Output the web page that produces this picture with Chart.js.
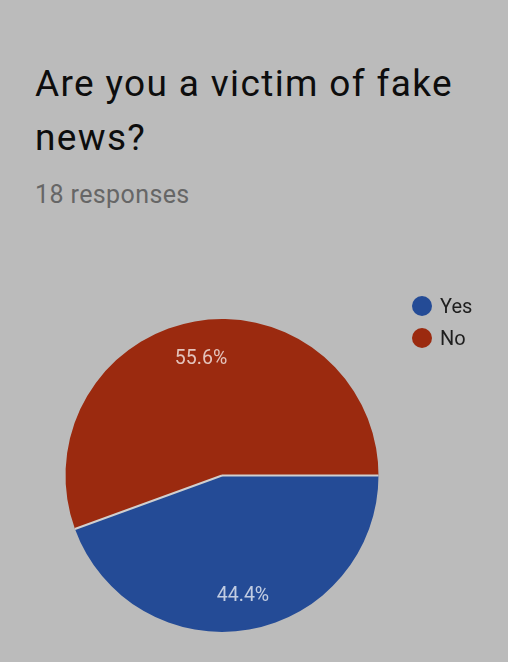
<!DOCTYPE html>
<html>
<head>
<meta charset="utf-8">
<script src="https://cdn.jsdelivr.net/npm/chart.js@4.4.1/dist/chart.umd.min.js"></script>
<style>
  html, body { margin: 0; padding: 0; background: #bbbbbb; width: 508px; height: 662px; overflow: hidden; font-family: Roboto, "Noto Sans", sans-serif; }
  #wrap { position: relative; width: 508px; height: 662px; }
  #title { position: absolute; left: 35px; top: 57px; font-size: 37px; line-height: 54px; letter-spacing: 1.35px; color: #0d0d0d; margin: 0; font-weight: 400; white-space: nowrap; }
  #sub { position: absolute; left: 35px; top: 180px; font-size: 25px; line-height: 30px; letter-spacing: 0.4px; color: #666666; }
  #legend { position: absolute; left: 412px; top: 290px; font-size: 20px; color: #1e1e1e; }
  .item { display: flex; align-items: center; height: 32px; }
  .dot { width: 20px; height: 20px; border-radius: 50%; margin-right: 8px; }
  canvas { position: absolute; left: 0; top: 0; }
</style>
</head>
<body>
<div id="wrap">
  <div id="title">Are you a victim of fake<br>news?</div>
  <div id="sub">18 responses</div>
  <canvas id="c" width="508" height="662"></canvas>
  <div id="legend"></div>
</div>
<script>
const categories = ["Yes", "No"];
const responses = [8, 10];
const percentLabels = ["44.4%", "55.6%"];
const sliceColors = ["#244b96", "#9b2a0f"];

const legend = document.getElementById('legend');
categories.forEach((c, i) => {
  const it = document.createElement('div');
  it.className = 'item';
  const d = document.createElement('span');
  d.className = 'dot';
  d.style.background = sliceColors[i];
  const t = document.createElement('span');
  t.textContent = c;
  it.appendChild(d); it.appendChild(t);
  legend.appendChild(it);
});

const labelPlugin = {
  id: 'sliceLabels',
  afterDatasetsDraw(chart) {
    const ctx = chart.ctx;
    const meta = chart.getDatasetMeta(0);
    ctx.save();
    // divider lines between slices
    ctx.strokeStyle = '#d0d0d0';
    ctx.lineWidth = 2;
    meta.data.forEach((arc) => {
      const p = arc.getProps(['x', 'y', 'startAngle', 'outerRadius'], true);
      ctx.beginPath();
      ctx.moveTo(p.x, p.y);
      ctx.lineTo(p.x + Math.cos(p.startAngle) * p.outerRadius, p.y + Math.sin(p.startAngle) * p.outerRadius);
      ctx.stroke();
    });
    ctx.font = '19.5px Roboto';
    ctx.fillStyle = 'rgba(255,255,255,0.72)';
    ctx.textAlign = 'center';
    ctx.textBaseline = 'alphabetic';
    meta.data.forEach((arc, i) => {
      const p = arc.getProps(['x', 'y', 'startAngle', 'endAngle', 'outerRadius'], true);
      const mid = (p.startAngle + p.endAngle) / 2;
      const r = p.outerRadius * 0.772;
      ctx.fillText(percentLabels[i], p.x + Math.cos(mid) * r, p.y + Math.sin(mid) * r + 7);
    });
    ctx.restore();
  }
};

new Chart(document.getElementById('c'), {
  type: 'pie',
  data: {
    labels: categories,
    datasets: [{
      data: responses,
      backgroundColor: sliceColors,
      borderWidth: 0
    }]
  },
  options: {
    responsive: false,
    animation: false,
    rotation: 90,
    layout: { padding: { left: 65, right: 129, top: 319, bottom: 30 } },
    plugins: { legend: { display: false }, tooltip: { enabled: false } }
  },
  plugins: [labelPlugin]
});
</script>
</body>
</html>
